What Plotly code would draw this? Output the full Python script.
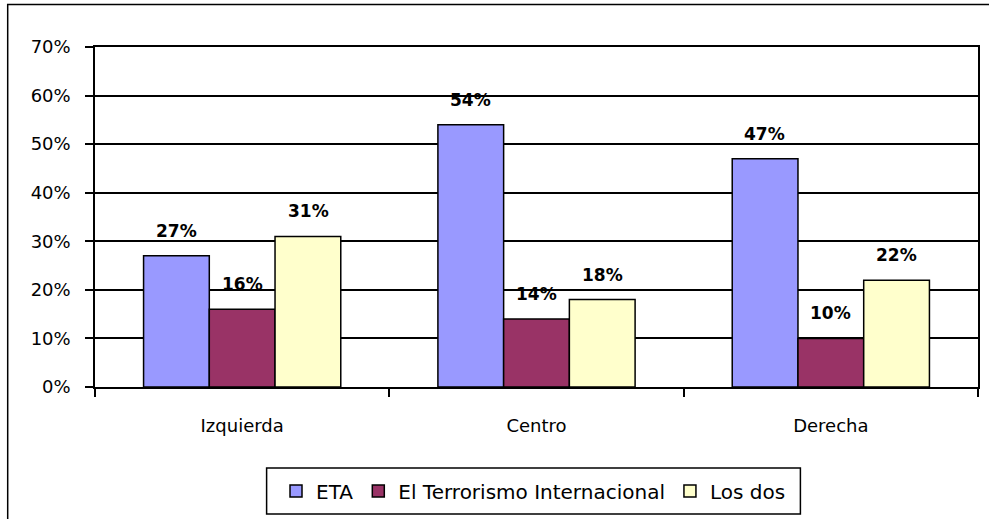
import plotly.graph_objects as go

categories = ["Izquierda", "Centro", "Derecha"]
series_names = ["ETA", "El Terrorismo Internacional", "Los dos"]
eta = [0.27, 0.54, 0.47]
terrorismo = [0.16, 0.14, 0.10]
los_dos = [0.31, 0.18, 0.22]
colors = ["#9999FF", "#993366", "#FFFFCC"]

FONT = "'DejaVu Sans', sans-serif"

L, R, T, B = 95, 9, 47, 132
W, H = 989, 519
pw = W - L - R
ph = H - T - B
BARGAP = 0.33
bar_w = pw / len(categories) * (1 - BARGAP) / 3


def px_x(p):
    return (p - L) / pw


def px_y(p):
    return (H - B - p) / ph


fig = go.Figure()
annotations = []
for i, (name, vals, col) in enumerate(zip(series_names, [eta, terrorismo, los_dos], colors)):
    fig.add_trace(go.Bar(
        x=categories, y=vals, name=name,
        marker=dict(color=col, line=dict(color="black", width=1.5)),
    ))
    for c, v in zip(categories, vals):
        annotations.append(dict(
            x=c, y=v, xref="x", yref="y",
            text=f"{round(v*100)}%", showarrow=False,
            xshift=(i - 1) * bar_w, yshift=25, yanchor="middle",
            font=dict(family=FONT, size=17, color="black", weight="bold"),
        ))

fig.update_layout(
    width=W, height=H,
    margin=dict(l=L, r=R, t=T, b=B),
    paper_bgcolor="white", plot_bgcolor="white",
    barmode="group", bargap=BARGAP, bargroupgap=0,
    font=dict(family=FONT, size=18, color="black"),
    showlegend=True,
    legend=dict(
        orientation="h", x=px_x(534.5), xanchor="center",
        y=px_y(491), yanchor="middle",
        borderwidth=0, bgcolor="rgba(0,0,0,0)",
        font=dict(family=FONT, size=20, color="black"),
        itemwidth=30, traceorder="normal",
    ),
    xaxis=dict(
        type="category", tickson="boundaries",
        ticks="outside", ticklen=8, tickwidth=1.5, tickcolor="black",
        showline=True, linecolor="black", linewidth=1.5, mirror=True,
        showgrid=False,
        tickfont=dict(family=FONT, size=18),
        ticklabelstandoff=22,
    ),
    yaxis=dict(
        range=[0, 0.7], dtick=0.1, tickformat=".0%",
        ticks="outside", ticklen=8, tickwidth=1.5, tickcolor="black",
        showline=True, linecolor="black", linewidth=1.5, mirror=True,
        showgrid=True, gridcolor="black", gridwidth=1.5,
        zeroline=False,
        tickfont=dict(family=FONT, size=18),
        ticklabelstandoff=11,
    ),
    annotations=annotations,
    shapes=[
        dict(
            type="rect", xref="paper", yref="paper",
            x0=px_x(7.5), x1=px_x(992), y0=px_y(530), y1=px_y(4.5),
            line=dict(color="black", width=1.5), fillcolor="rgba(0,0,0,0)",
            layer="below",
        ),
        dict(
            type="rect", xref="paper", yref="paper",
            x0=px_x(267), x1=px_x(802), y0=px_y(514), y1=px_y(468),
            line=dict(color="black", width=1.5), fillcolor="rgba(0,0,0,0)",
            layer="below",
        ),
    ],
)

fig.write_html("out.html", config={"displayModeBar": False},
               post_script="document.body.style.margin='0';")
